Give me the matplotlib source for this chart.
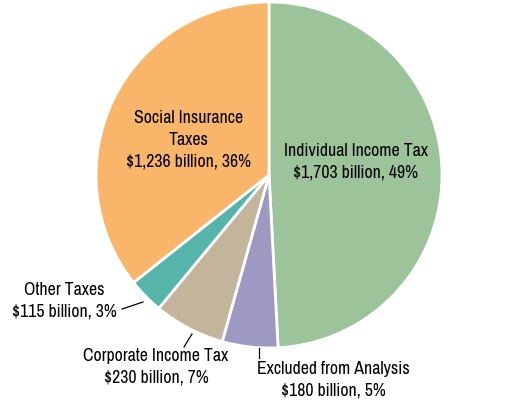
import matplotlib
matplotlib.use("Agg")
import matplotlib.pyplot as plt
from matplotlib import font_manager

names = ["Individual Income Tax", "Excluded from Analysis", "Corporate Income Tax",
         "Other Taxes", "Social Insurance\nTaxes"]
values = [1703, 180, 230, 115, 1236]
pcts = [49, 5, 7, 3, 36]
colors = ["#9cc39a", "#9d99c2", "#c3b59c", "#55b5ab", "#f9b66b"]

# prefer a condensed face, like the original
fams = sorted({f.name for f in font_manager.fontManager.ttflist})
narrow = [f for f in fams if "Narrow" in f or "Condensed" in f]
fam = narrow[0] if narrow else "Liberation Sans"
plt.rcParams['font.family'] = [fam, 'DejaVu Sans']

fig = plt.figure(figsize=(5.06, 4.06), dpi=100)
ax = fig.add_axes([0, 0, 1, 1])

cx, cy, r = 269, 176, 173
ax.pie(values, colors=colors, startangle=-90, counterclock=True,
       center=(cx, cy), radius=r, frame=True,
       wedgeprops=dict(edgecolor='white', linewidth=2))
ax.set_xlim(0, 506)
ax.set_ylim(406, 0)
ax.set_aspect('equal')
ax.axis('off')

# size text so one label is as wide as in the original (~143 px)
fig.canvas.draw()
probe = ax.text(0, 0, "Individual Income Tax", fontsize=12)
w = probe.get_window_extent(fig.canvas.get_renderer()).width
probe.remove()
fs = min(12 * 143 / w, 13)

labels = [f"{n}\n${v:,} billion, {p}%" for n, v, p in zip(names, values, pcts)]
pos = [(356, 162), (333, 380), (156, 367), (64, 301), (189, 140)]
for t, (x, y) in zip(labels, pos):
    ax.text(x, y, t, ha='center', va='center', fontsize=fs, linespacing=1.45)

# leader lines
ax.plot([122, 143], [310, 303], color='black', lw=0.9)
ax.plot([184, 192], [348, 335], color='black', lw=0.9)
ax.plot([259, 259], [349, 359], color='black', lw=0.9)

fig.savefig("out.png", dpi=100)
